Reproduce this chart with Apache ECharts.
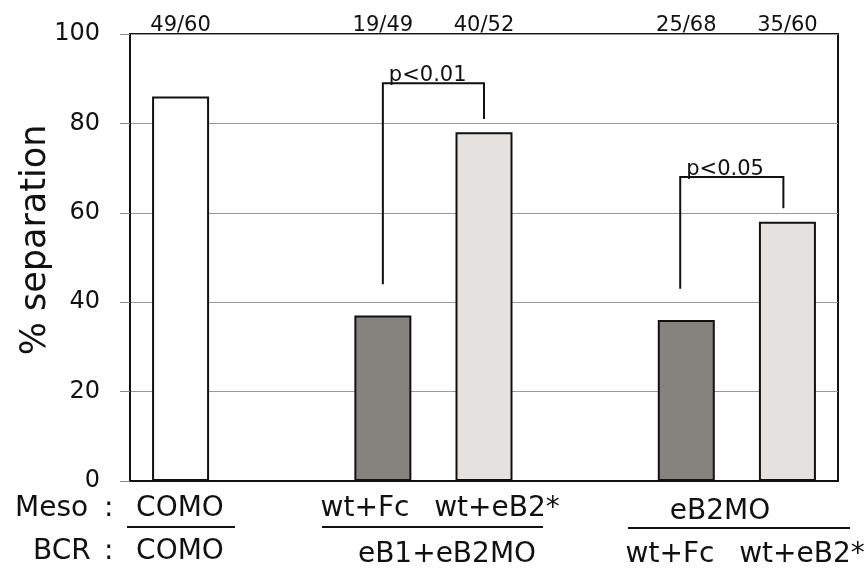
<!DOCTYPE html>
<html>
<head>
<meta charset="utf-8">
<script src="https://cdn.jsdelivr.net/npm/echarts@6/dist/echarts.min.js"></script>
<style>
  html, body { margin: 0; padding: 0; background: #fff; }
  #chart { width: 864px; height: 569px; }
</style>
</head>
<body>
<div id="chart"></div>
<script>
// 7 slots on the x axis, two of them left empty as spacers between groups
const categories = ['COMO', '', 'wt+Fc', 'wt+eB2*', '', 'wt+Fc', 'wt+eB2*']
const separation = [86, null, 37, 78, null, 36, 58]
const countLabels = ['49/60', '', '19/49', '40/52', '', '25/68', '35/60']
const barColors = ['#ffffff', null, '#85837e', '#e4e1de', null, '#85837e', '#e4e1de']
// brackets: [left slot, right slot, left leg end, right leg end, top, label]
const brackets = [
  [2, 3, 44, 81, 89, 'p<0.01'],
  [4.94, 5.96, 43, 61, 68, 'p<0.05'],
]
const yTicks = [0, 20, 40, 60, 80, 100]

const FONT = 'DejaVu Sans'
const chart = echarts.init(document.getElementById('chart'))

function txt(text, x, y, size, align) {
  return {
    type: 'text', x: x, y: y,
    style: {
      text: text, fontFamily: FONT, fontSize: size || 28, fill: '#111',
      textAlign: align || 'center', textVerticalAlign: 'middle'
    }
  }
}
function hline(x1, x2, y) {
  return { type: 'line', shape: { x1: x1, y1: y, x2: x2, y2: y }, style: { stroke: '#111', lineWidth: 2 } }
}

chart.setOption({
  animation: false,
  grid: {
    left: 130, right: 26, top: 34, bottom: 88,
    show: true, borderColor: '#111', borderWidth: 2
  },
  xAxis: [
    {
      type: 'category', data: categories, position: 'bottom',
      axisLine: { lineStyle: { color: '#111', width: 2 } },
      axisTick: { show: false }, axisLabel: { show: false }
    },
    {
      type: 'category', data: countLabels, position: 'top',
      axisLine: { show: false }, axisTick: { show: false },
      axisLabel: { margin: -2, fontFamily: FONT, fontSize: 21, color: '#111', interval: 0 }
    }
  ],
  yAxis: {
    type: 'value', min: 0, max: 100, interval: 20,
    axisLine: { show: true, lineStyle: { color: '#111', width: 2 } },
    axisTick: { show: true, length: 10, lineStyle: { color: '#888' } },
    splitLine: { lineStyle: { color: '#999', width: 1 } },
    axisLabel: {
      margin: 30, fontFamily: FONT, fontSize: 24, color: '#111',
      formatter: v => (yTicks.indexOf(v) >= 0 ? String(v) : '')
    }
  },
  series: [
    {
      type: 'bar', barWidth: 57,
      data: separation.map((v, i) => ({
        value: v,
        itemStyle: { color: barColors[i] || '#fff', borderColor: '#111', borderWidth: 2 }
      }))
    },
    {
      type: 'custom',
      data: brackets.map(b => b.slice(0, 5)),
      renderItem: function (params, api) {
        const b = brackets[params.dataIndex]
        const band = api.size([1, 0])[0]
        // category coords snap to slot centres, so add the fractional part by hand
        const px = (slot, v) => {
          const s = Math.round(slot)
          const p = api.coord([s, v])
          return [p[0] + (slot - s) * band, p[1]]
        }
        const p1 = px(b[0], b[2])
        const p2 = px(b[0], b[4])
        const p3 = px(b[1], b[4])
        const p4 = px(b[1], b[3])
        return {
          type: 'group',
          children: [
            {
              type: 'polyline',
              shape: { points: [p1, p2, p3, p4] },
              style: { stroke: '#111', lineWidth: 2, fill: null }
            },
            {
              type: 'text', x: p2[0] + 6, y: p2[1] + 3,
              style: {
                text: b[5], fontFamily: FONT, fontSize: 21, fill: '#111',
                textAlign: 'left', textVerticalAlign: 'bottom'
              }
            }
          ]
        }
      }
    }
  ],
  graphic: [
    {
      type: 'text', x: 36, y: 240, rotation: Math.PI / 2,
      style: {
        text: '% separation', fontFamily: FONT, fontSize: 35, fill: '#111',
        textAlign: 'center', textVerticalAlign: 'middle'
      }
    },
    txt('Meso', 15, 509, 28, 'left'),
    txt(':', 104, 509, 28, 'left'),
    txt('BCR', 33, 552, 28, 'left'),
    txt(':', 104, 552, 28, 'left'),
    txt('COMO', 180, 509),
    hline(127, 235, 527),
    txt('COMO', 180, 552),
    txt('wt+Fc', 365, 509),
    txt('wt+eB2*', 497, 509),
    hline(322, 543, 527),
    txt('eB1+eB2MO', 447, 555),
    txt('eB2MO', 720, 512),
    hline(628, 850, 528),
    txt('wt+Fc', 670, 555),
    txt('wt+eB2*', 802, 555)
  ]
})
</script>
</body>
</html>
